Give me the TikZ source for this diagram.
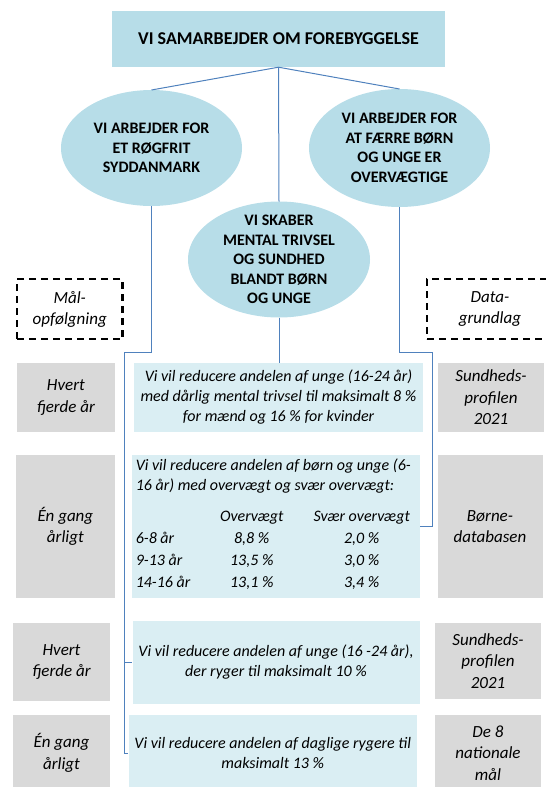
\documentclass[tikz,border=0pt]{standalone}
\usepackage{fontspec}
\setmainfont{Carlito}[Extension=.ttf,UprightFont=*-Regular,ItalicFont=*-Italic,
    BoldFont=*-Bold,BoldItalicFont=*-BoldItalic]
\usetikzlibrary{shapes.geometric}
\definecolor{aimblue}{RGB}{183,221,232}
\definecolor{goalblue}{RGB}{218,238,243}
\definecolor{boxgray}{RGB}{217,217,217}
\definecolor{linkblue}{RGB}{79,129,189}
\begin{document}
\begin{tikzpicture}[x=1pt,y=-1pt,
        head/.style={fill=aimblue,minimum width=333pt,minimum height=56pt,
            font=\fontsize{18}{22}\selectfont\bfseries},
        aim/.style={ellipse,fill=aimblue,outer sep=0pt,inner xsep=-25pt,inner ysep=-50pt,
            minimum width=181pt,align=center,font=\fontsize{16}{19.5}\selectfont\bfseries},
        goal/.style={fill=goalblue,inner xsep=4pt,inner ysep=2pt,align=center,
            font=\fontsize{16}{20}\selectfont\itshape},
        when/.style={fill=boxgray,inner sep=2pt,align=center,
            font=\fontsize{17}{21.5}\selectfont\itshape},
        tag/.style={draw,line width=2.2pt,dash pattern=on 7pt off 5pt,inner sep=2pt,
            align=center,font=\fontsize{17}{21}\selectfont\itshape},
        link/.style={draw=linkblue,line width=1pt}]
        \useasboundingbox (0,0) rectangle (546,787);
        \clip (0,0) rectangle (546,787);

        % title
        \node[head] (top) at (278.5,39) {VI SAMARBEJDER OM FOREBYGGELSE};

        % the three aims
        \node[aim,minimum height=116pt] (smoke) at (151.5,148)
            {VI ARBEJDER FOR\\ET RØGFRIT\\SYDDANMARK};
        \node[aim,minimum height=118pt] (weight) at (399.5,148)
            {VI ARBEJDER FOR\\AT FÆRRE BØRN\\OG UNGE ER\\OVERVÆGTIGE};
        \node[aim,minimum width=182pt,minimum height=116pt] (mental) at (279,259.5)
            {VI SKABER\\MENTAL TRIVSEL\\OG SUNDHED\\BLANDT BØRN\\OG UNGE};

        % column heads
        \node[tag,minimum width=105.5pt,minimum height=60pt] (follow) at (69.75,309)
            {Mål-\\opfølgning};
        \node[tag,minimum width=126pt,minimum height=60pt] (data) at (490,309)
            {Data-\\grundlag};

        % the goals
        \node[goal,minimum width=289pt,minimum height=69pt] (goalmental) at (278.5,397.5)
            {Vi vil reducere andelen af unge (16-24 år)\\med dårlig mental trivsel til maksimalt 8 \%\\for mænd og 16 \% for kvinder};
        \node[goal,minimum width=288.5pt,minimum height=143pt,align=left]
            (goalweight) at (275.75,526.5) {%
            Vi vil reducere andelen af børn og unge (6-\\
            16 år) med overvægt og svær overvægt:\\[11pt]
            \renewcommand{\arraystretch}{1.1}%
            \begin{tabular}{@{}l@{}c@{}c@{\hspace{-8pt}}}
                \makebox[68pt][l]{} & \makebox[96pt]{Overvægt} & \makebox[124pt]{Svær overvægt}\\
                6-8 år & 8,8 \% & 2,0 \%\\
                9-13 år & 13,5 \% & 3,0 \%\\
                14-16 år & 13,1 \% & 3,4 \%
            \end{tabular}};
        \node[goal,minimum width=287pt,minimum height=83pt] (goalyoung) at (276,662.5)
            {Vi vil reducere andelen af unge (16 -24 år),\\der ryger til maksimalt 10 \%};
        \node[goal,minimum width=288.5pt,minimum height=76pt] (goaldaily) at (272.75,753)
            {Vi vil reducere andelen af daglige rygere til\\maksimalt 13 \%};

        % how often, and from where
        \foreach \nm/\cx/\cy/\w/\h/\txt in {
            often1/65.9/397.5/98/69/{Hvert\\fjerde år},
            often2/65.4/526.5/99/143/{Én gang\\årligt},
            often3/61.5/662/97/78/{Hvert\\fjerde år},
            often4/61.5/753/97/76/{Én gang\\årligt},
            source1/491/397.5/106/69/{Sundheds-\\profilen\\2021},
            source2/490/526.5/105/143/{Børne-\\databasen},
            source3/488/661/105.7/76.6/{Sundheds-\\profilen\\2021},
            source4/488/753/105.7/76/{De 8\\nationale\\mål}}
                \node[when,minimum width=\w pt,minimum height=\h pt] (\nm) at (\cx,\cy) {\txt};

        % connectors
        \draw[link] (top.south) -- (smoke.north);
        \draw[link] (top.south) -- (weight.north);
        \draw[link] (top.south) -- (mental.north);
        \draw[link] (mental.south) -- (mental.south |- goalmental.north);

        \coordinate (leftbend) at (124.5,352);
        \coordinate (rightbend) at (432,352);
        \draw[link] (smoke.south) |- (leftbend) |- (goaldaily.west);
        \draw[link] (leftbend) |- (goalyoung.west);
        \draw[link] (weight.south) |- (rightbend) |- (goalweight.east);
\end{tikzpicture}
\end{document}
